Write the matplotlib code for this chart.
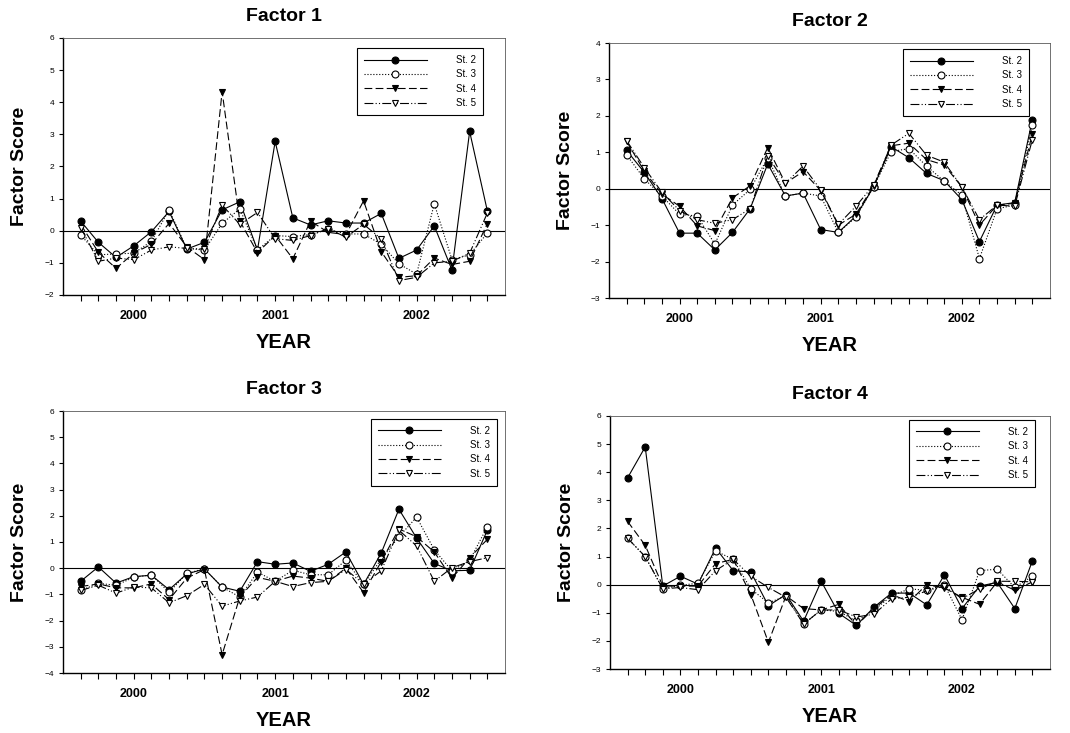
import numpy as np
import matplotlib.pyplot as plt

plt.rcParams['font.family'] = ['Liberation Sans', 'DejaVu Sans']

# sampling index (24 samples, mid-1999 .. 2002)
samples = np.arange(24)
year_pos = [3, 11, 19]
year_labels = ['2000', '2001', '2002']
stations = ['St. 2', 'St. 3', 'St. 4', 'St. 5']

f1_st2 = [0.3, -0.36, -0.83, -0.47, -0.03, 0.6, -0.57, -0.36, 0.65, 0.9, -0.6, 2.78,
          0.4, 0.18, 0.31, 0.24, 0.24, 0.54, -0.86, -0.6, 0.15, -1.22, 3.09, 0.62]
f1_st3 = [-0.13, -0.75, -0.72, -0.7, -0.33, 0.65, -0.55, -0.6, 0.23, 0.68, -0.6, -0.15,
          -0.18, -0.12, 0.05, -0.1, -0.1, -0.42, -1.03, -1.35, 0.84, -0.9, -0.75, -0.07]
f1_st4 = [0.2, -0.67, -1.17, -0.7, -0.42, 0.23, -0.5, -0.9, 4.33, 0.3, -0.68, -0.15,
          -0.87, 0.3, -0.05, -0.12, 0.93, -0.65, -1.45, -1.4, -0.85, -1.05, -0.95, 0.22]
f1_st5 = [0.1, -0.95, -0.85, -0.9, -0.6, -0.5, -0.55, -0.57, 0.8, 0.2, 0.57, -0.25,
          -0.3, -0.15, 0.07, -0.2, 0.2, -0.25, -1.55, -1.45, -1.0, -0.95, -0.7, 0.55]

f2_st2 = [1.05, 0.45, -0.27, -1.22, -1.22, -1.68, -1.2, -0.55, 0.68, -0.2, -0.12, -1.12,
          -1.2, -0.75, 0.05, 1.15, 0.85, 0.42, 0.22, -0.3, -1.45, -0.45, -0.38, 1.9]
f2_st3 = [0.93, 0.27, -0.2, -0.7, -0.75, -1.52, -0.45, -0.02, 0.85, -0.2, -0.12, -0.2,
          -1.2, -0.78, 0.05, 1.02, 1.1, 0.62, 0.21, -0.18, -1.92, -0.55, -0.45, 1.75]
f2_st4 = [1.3, 0.48, -0.15, -0.48, -1.02, -1.15, -0.25, 0.08, 1.13, 0.15, 0.47, -0.05,
          -1.0, -0.7, 0.08, 1.18, 1.25, 0.8, 0.65, 0.05, -1.0, -0.45, -0.4, 1.5]
f2_st5 = [1.32, 0.58, -0.1, -0.6, -0.85, -0.95, -0.85, -0.55, 0.9, 0.15, 0.62, -0.03,
          -0.98, -0.48, 0.1, 1.2, 1.52, 0.92, 0.73, 0.05, -0.85, -0.45, -0.48, 1.35]

f3_st2 = [-0.5, 0.05, -0.57, -0.32, -0.27, -0.82, -0.22, -0.03, -0.72, -0.88, 0.25, 0.15,
          0.2, -0.12, 0.15, 0.62, -0.62, 0.58, 2.25, 1.15, 0.18, -0.1, -0.08, 1.45]
f3_st3 = [-0.85, -0.58, -0.65, -0.35, -0.25, -0.92, -0.2, -0.02, -0.72, -1.1, -0.15, -0.5,
          -0.08, -0.25, -0.25, 0.3, -0.62, 0.35, 1.2, 1.95, 0.7, -0.1, 0.3, 1.58]
f3_st4 = [-0.7, -0.6, -0.75, -0.75, -0.6, -1.2, -0.38, -0.05, -3.3, -1.1, -0.35, -0.5,
          -0.3, -0.38, -0.5, 0.0, -0.93, 0.25, 1.5, 1.2, 0.62, -0.38, 0.4, 1.1]
f3_st5 = [-0.85, -0.65, -0.95, -0.72, -0.75, -1.32, -1.05, -0.62, -1.45, -1.25, -1.1, -0.5,
          -0.7, -0.55, -0.5, -0.05, -0.6, -0.1, 1.45, 0.85, -0.5, 0.02, 0.25, 0.4]

f4_st2 = [3.8, 4.9, -0.05, 0.3, 0.02, 1.3, 0.5, 0.45, -0.75, -0.35, -1.3, 0.12,
          -1.02, -1.45, -0.8, -0.3, -0.3, -0.72, 0.35, -0.85, -0.05, 0.08, -0.85, 0.85]
f4_st3 = [1.65, 1.0, -0.15, -0.02, 0.05, 1.2, 0.9, -0.15, -0.65, -0.4, -1.4, -0.9,
          -0.95, -1.3, -0.9, -0.4, -0.15, -0.2, 0.0, -1.25, 0.5, 0.55, -0.1, 0.3]
f4_st4 = [2.25, 1.4, -0.05, -0.05, -0.05, 0.75, 0.9, -0.35, -2.05, -0.4, -0.85, -0.9,
          -0.7, -1.45, -0.85, -0.35, -0.6, 0.0, -0.12, -0.45, -0.7, 0.1, -0.2, 0.1]
f4_st5 = [1.65, 1.0, -0.15, -0.1, -0.18, 0.5, 0.9, 0.3, -0.1, -0.45, -1.4, -0.9,
          -0.9, -1.15, -1.05, -0.5, -0.45, -0.22, -0.05, -0.5, -0.15, 0.12, 0.12, 0.1]

factors = [
    ('Factor 1', (-2, 6), [f1_st2, f1_st3, f1_st4, f1_st5]),
    ('Factor 2', (-3, 4), [f2_st2, f2_st3, f2_st4, f2_st5]),
    ('Factor 3', (-4, 6), [f3_st2, f3_st3, f3_st4, f3_st5]),
    ('Factor 4', (-3, 6), [f4_st2, f4_st3, f4_st4, f4_st5]),
]

styles = [
    dict(ls='-', marker='o', mfc='black'),
    dict(ls=':', marker='o', mfc='white'),
    dict(ls=(0, (7, 3)), marker='v', mfc='black'),
    dict(ls=(0, (8, 2, 1, 2, 1, 2)), marker='v', mfc='white'),
]

# axes rectangles in pixels: left, top, right, bottom
boxes = [(63, 38, 505, 295), (609, 43, 1050, 298),
         (63, 411, 505, 673), (610, 416, 1050, 669)]
legend_anchor = [(0.95, 0.96), (0.952, 0.976), (0.982, 0.97), (0.966, 0.984)]
W, H = 1070, 733

fig = plt.figure(figsize=(10.7, 7.33), dpi=100)
for (title, ylim, series), (l, t, r, b), anc in zip(factors, boxes, legend_anchor):
    ax = fig.add_axes([l / W, 1 - b / H, (r - l) / W, (b - t) / H])
    ax.axhline(0, color='black', lw=0.8, zorder=1)
    for vals, st, name in zip(series, styles, stations):
        ax.plot(samples, vals, color='black', lw=0.8, ms=5, mec='black', mew=0.8,
                label=name, zorder=3, **st)
    ax.set_xlim(-1, 24)
    ax.set_ylim(*ylim)
    ax.set_yticks(range(ylim[0], ylim[1] + 1))
    ax.tick_params(axis='y', labelsize=6, length=3, width=0.8)
    ax.set_xticks(year_pos)
    ax.set_xticklabels(year_labels, fontweight='bold', fontsize=9)
    ax.set_xticks(samples, minor=True)
    ax.tick_params(axis='x', which='both', length=4, width=0.8, pad=7)
    for side in ['top', 'right']:
        ax.spines[side].set_linewidth(0.6)
        ax.spines[side].set_color('0.35')
    for side in ['left', 'bottom']:
        ax.spines[side].set_linewidth(1.0)
    ax.set_title(title, fontsize=14, fontweight='bold', pad=12)
    ax.set_xlabel('YEAR', fontsize=14.5, fontweight='bold', labelpad=8)
    ax.set_ylabel('Factor Score', fontsize=14, fontweight='bold', labelpad=12)
    leg = ax.legend(loc='upper right', bbox_to_anchor=anc, fontsize=7,
                    handlelength=6.5, fancybox=False, edgecolor='black', framealpha=1,
                    borderpad=0.7, labelspacing=0.45, handletextpad=3.0,
                    borderaxespad=0)
    leg.get_frame().set_linewidth(0.8)

fig.savefig('out.png', dpi=100)
